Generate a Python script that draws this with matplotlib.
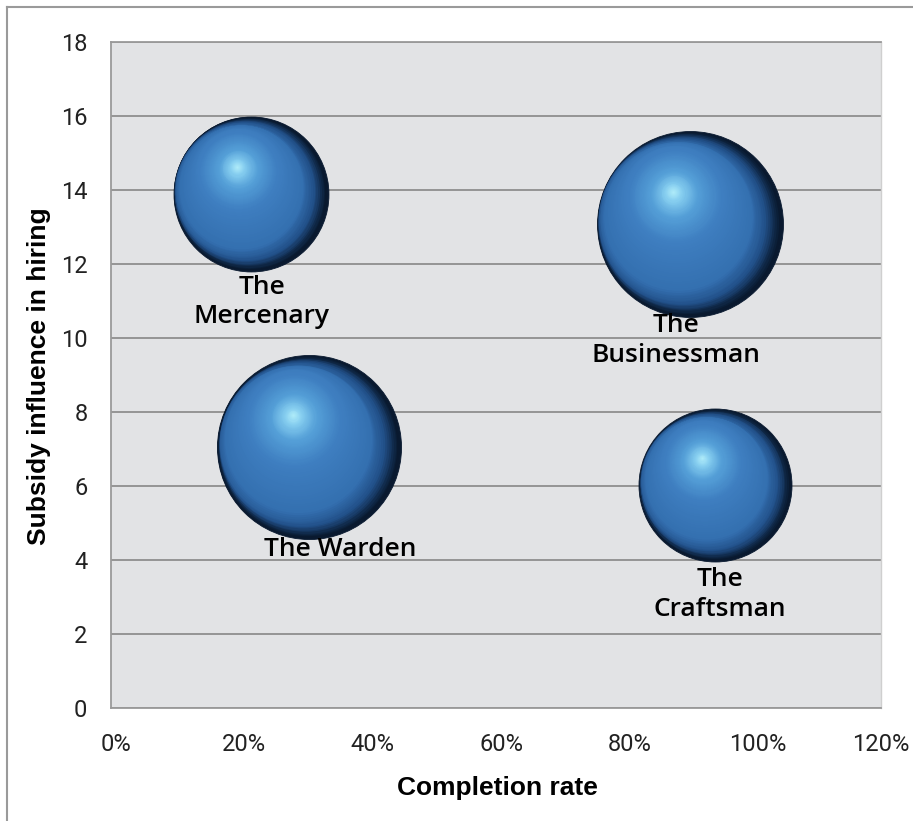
import matplotlib
matplotlib.use('Agg')
import matplotlib.pyplot as plt
import matplotlib.transforms as mtransforms
from matplotlib.colors import LinearSegmentedColormap
from matplotlib.lines import Line2D
from matplotlib.ticker import PercentFormatter
import numpy as np

### chart data
names = ['The\nMercenary', 'The Warden', 'The\nBusinessman', 'The\nCraftsman']
completion = [0.218, 0.309, 0.902, 0.942]
subsidy = [13.9, 7.05, 13.08, 6.03]
bubble_size = [24.3, 34.3, 35.0, 23.7]

x_ticks = [0, 0.2, 0.4, 0.6, 0.8, 1.0, 1.2]
y_ticks = [0, 2, 4, 6, 8, 10, 12, 14, 16, 18]

# label offsets (points) relative to bubble centre
label_off = [(8, -78), (22, -74), (-10, -84), (3, -79)]

tick_font = ['Roboto', 'DejaVu Sans']
title_font = ['Liberation Sans', 'DejaVu Sans']

fig = plt.figure(figsize=(9.13, 8.21), dpi=100)
fig.patch.set_facecolor('white')
ax = fig.add_axes([111/913, 1-708/821, 770/913, 666/821])
ax.set_facecolor('#e2e3e5')

ax.set_xlim(0, 1.2)
ax.set_ylim(0, 18)
ax.set_xticks(x_ticks)
ax.set_yticks(y_ticks)
ax.xaxis.set_major_formatter(PercentFormatter(xmax=1, decimals=0))
ax.tick_params(length=0, labelsize=17, labelcolor='#222222')
ax.tick_params(axis='y', pad=17)
ax.tick_params(axis='x', pad=18)
for lab in ax.get_xticklabels() + ax.get_yticklabels():
    lab.set_family(tick_font)
# x labels sit a little right of the tick position in the original (not the last one)
shift = mtransforms.ScaledTranslation(5/100, 0, fig.dpi_scale_trans)
for lab in ax.get_xticklabels()[:-1]:
    lab.set_transform(lab.get_transform() + shift)

ax.grid(axis='y', color='#8e8e8e', linewidth=1.3)
ax.set_axisbelow(True)
for side in ['left', 'top', 'bottom']:
    ax.spines[side].set_color('#9a9a9a')
    ax.spines[side].set_linewidth(1.3)
ax.spines['right'].set_color('#cfcfcf')
ax.spines['right'].set_linewidth(1.0)

# sphere shading, built from stacked circles
shade = LinearSegmentedColormap.from_list('sphere', [
    (0.0, '#061325'),
    (0.04, '#0f2746'),
    (0.1, '#22518a'),
    (0.2, '#3470b0'),
    (0.5, '#3f7fc1'),
    (0.75, '#55a0d8'),
    (0.9, '#84ccef'),
    (1.0, '#b2eefa')])
# path of the layer centres (fraction of radius): first west, then up to the highlight
path_t = [0.0, 0.15, 0.45, 1.0]
path_x = [0.0, -0.12, -0.16, -0.18]
path_y = [0.0, 0.05, 0.29, 0.35]

k = 512.0   # points^2 per size unit
n_layers = 80
for cx, cy, sz in zip(completion, subsidy, bubble_size):
    area = sz * k
    R = np.sqrt(area) / 2.0
    ax.scatter([cx], [cy], s=area, color='#0a1a30', edgecolors='#0a1a30',
               linewidths=0.6, zorder=3)
    for i in range(1, n_layers):
        t = i / n_layers
        r = R * (1 - t)
        dx = np.interp(t, path_t, path_x) * R
        dy = np.interp(t, path_t, path_y) * R
        tr = mtransforms.offset_copy(ax.transData, fig=fig, x=dx, y=dy, units='points')
        ax.scatter([cx], [cy], s=(2 * r) ** 2, color=shade(t), linewidths=0,
                   transform=tr, zorder=3)

for nm, cx, cy, off in zip(names, completion, subsidy, label_off):
    ax.annotate(nm, (cx, cy), xytext=off, textcoords='offset points',
                ha='center', va='center', fontsize=19, family='Open Sans',
                fontweight='semibold', color='black', linespacing=1.25, zorder=5)

fig.text(39/913, 1-376/821, 'Subsidy influence in hiring', rotation=90,
         ha='center', va='center', fontsize=19, fontweight='bold', family=title_font)
fig.text(497/913, 1-788/821, 'Completion rate', ha='center', va='center',
         fontsize=19, fontweight='bold', family=title_font)

# outer frame (cropped at right and bottom)
fig.add_artist(Line2D([7/913, 1], [1-7.5/821, 1-7.5/821], color='#9a9a9a', linewidth=1.5,
                      transform=fig.transFigure))
fig.add_artist(Line2D([7/913, 7/913], [0, 1-7.5/821], color='#9a9a9a', linewidth=1.5,
                      transform=fig.transFigure))

plt.savefig('out.png', dpi=100)
